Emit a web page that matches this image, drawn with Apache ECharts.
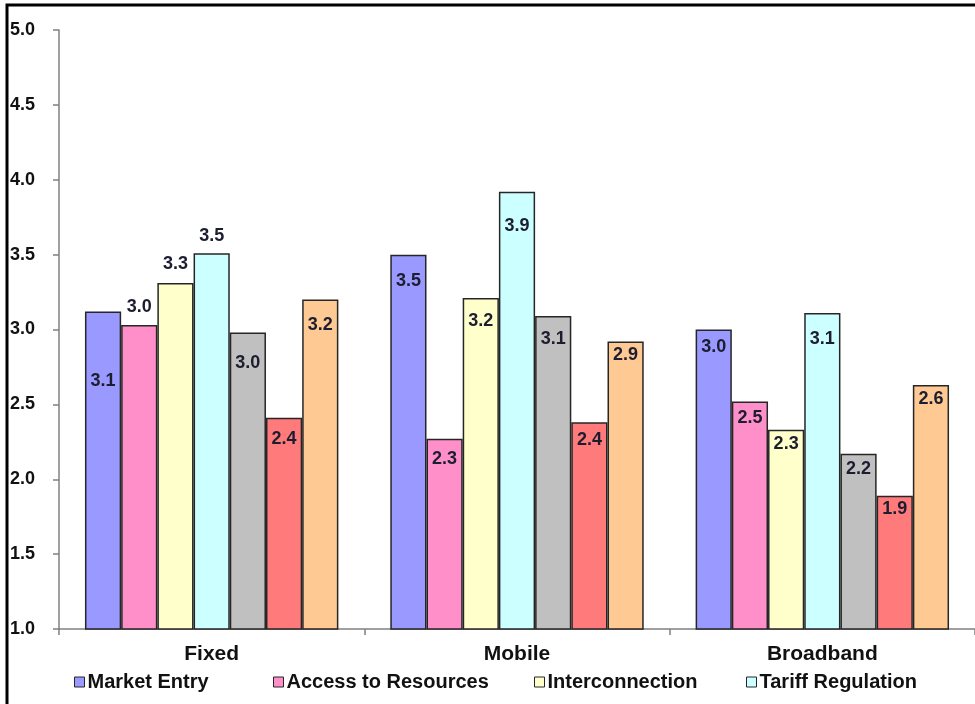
<!DOCTYPE html>
<html>
<head>
<meta charset="utf-8">
<script src="https://cdn.jsdelivr.net/npm/echarts@6/dist/echarts.min.js"></script>
<style>
  html, body { margin: 0; padding: 0; background: #fff; }
  #chart { width: 975px; height: 704px; }
</style>
</head>
<body>
<div id="chart"></div>
<script>
// Regulatory environment scores by sector
const categories = ['Fixed', 'Mobile', 'Broadband'];
const yTicks = [1.0, 1.5, 2.0, 2.5, 3.0, 3.5, 4.0, 4.5, 5.0];

const marketEntry       = [3.12, 3.50, 3.00];
const accessToResources = [3.03, 2.27, 2.52];
const interconnection   = [3.31, 3.21, 2.33];
const tariffRegulation  = [3.51, 3.92, 3.11];
const antiCompetitive   = [2.98, 3.09, 2.17];
const universalService  = [2.41, 2.38, 1.89];
const qualityOfService  = [3.20, 2.92, 2.63];

const seriesNames = [
  'Market Entry', 'Access to Resources', 'Interconnection', 'Tariff Regulation',
  'Anti-competitive Practices', 'Universal Services', 'Quality of Service'
];
const seriesValues = [
  marketEntry, accessToResources, interconnection, tariffRegulation,
  antiCompetitive, universalService, qualityOfService
];

// styling
const fills = ['#9999ff', '#ff8fc8', '#ffffcc', '#ccffff', '#c0c0c0', '#ff7a7a', '#ffc994'];
// value label placement per series, per category: [position, distance]
const labelPlace = [
  [['insideTop', 61], ['insideTop', 17], ['insideTop', 9]],
  [['top', 9],        ['insideTop', 11], ['insideTop', 8]],
  [['top', 10],       ['insideTop', 14], ['insideTop', 5]],
  [['top', 8],        ['insideTop', 25], ['insideTop', 17]],
  [['insideTop', 22], ['insideTop', 14], ['insideTop', 6]],
  [['insideTop', 12], ['insideTop', 9],  ['insideTop', 4]],
  [['insideTop', 16], ['insideTop', 5],  ['insideTop', 5]]
];
const legendLeft = [74, 273, 534, 746];

const FONT = '"Liberation Sans", Arial, sans-serif';
const labelColor = '#1d1d30';

const series = seriesNames.map((name, s) => ({
  name: name,
  type: 'bar',
  barGap: '0%',
  barCategoryGap: '17%',
  itemStyle: { color: fills[s], borderColor: '#262626', borderWidth: 1.5 },
  data: seriesValues[s].map((v, c) => ({
    value: v,
    label: {
      show: true,
      position: labelPlace[s][c][0],
      distance: labelPlace[s][c][1],
      formatter: p => p.value.toFixed(1),
      fontFamily: FONT,
      fontWeight: 'bold',
      fontSize: 18,
      color: labelColor
    }
  }))
}));

const legends = seriesNames.slice(0, 4).map((name, i) => ({
  data: [name],
  left: legendLeft[i],
  top: 672,
  icon: 'rect',
  itemWidth: 10,
  itemHeight: 10,
  padding: 0,
  selectedMode: false,
  itemStyle: { borderColor: '#262626', borderWidth: 1 },
  textStyle: { fontFamily: FONT, fontWeight: 'bold', fontSize: 20, color: '#111', padding: [0, 0, 0, -2] }
}));

const chart = echarts.init(document.getElementById('chart'), null, { renderer: 'canvas' });
chart.setOption({
  animation: false,
  backgroundColor: '#fff',
  grid: { left: 59, top: 30, width: 926, height: 599, containLabel: false },
  legend: legends,
  xAxis: {
    type: 'category',
    data: categories,
    axisLine: { lineStyle: { color: '#808080', width: 1.5 } },
    axisTick: { show: true, length: 6, lineStyle: { color: '#808080', width: 1.5 } },
    axisLabel: { margin: 15, fontFamily: FONT, fontWeight: 'bold', fontSize: 21, color: '#111' },
    splitLine: { show: false }
  },
  yAxis: {
    type: 'value',
    min: yTicks[0],
    max: yTicks[yTicks.length - 1],
    interval: yTicks[1] - yTicks[0],
    axisLine: { show: true, lineStyle: { color: '#808080', width: 1.5 } },
    axisTick: { show: true, length: 6, lineStyle: { color: '#808080', width: 1.5 } },
    axisLabel: {
      margin: 49,
      align: 'left',
      formatter: v => v.toFixed(1),
      fontFamily: FONT, fontWeight: 'bold', fontSize: 18, color: '#111'
    },
    splitLine: { show: false }
  },
  series: series,
  graphic: [{
    type: 'rect',
    silent: true,
    z: 100,
    shape: { x: 7, y: 5, width: 1100, height: 1100 },
    style: { fill: 'none', stroke: '#000', lineWidth: 3 }
  }]
});
</script>
</body>
</html>
